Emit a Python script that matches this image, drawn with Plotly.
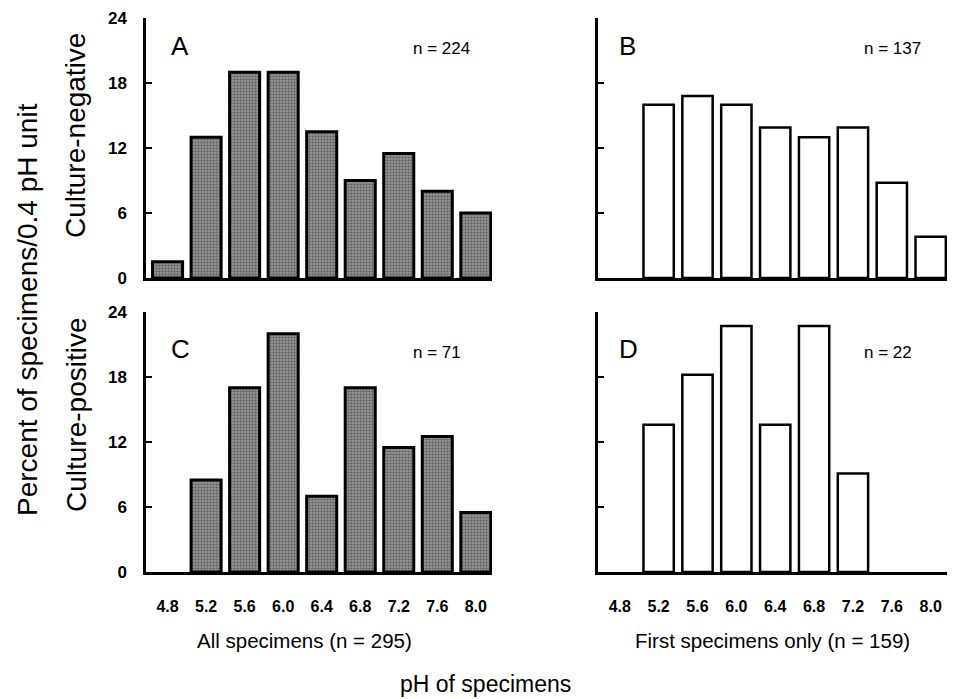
import plotly.graph_objects as go

ph_labels = ["4.8", "5.2", "5.6", "6.0", "6.4", "6.8", "7.2", "7.6", "8.0"]
y_ticks = [0, 6, 12, 18, 24]

# Panel A: culture-negative, all specimens (n = 224)
neg_all = [1.5, 13.0, 19.0, 19.0, 13.5, 9.0, 11.5, 8.0, 6.0]
# Panel B: culture-negative, first specimens only (n = 137)
neg_first = [0, 16.0, 16.8, 16.0, 13.9, 13.0, 13.9, 8.8, 3.8]
# Panel C: culture-positive, all specimens (n = 71)
pos_all = [0, 8.5, 17.0, 22.0, 7.0, 17.0, 11.5, 12.5, 5.5]
# Panel D: culture-positive, first specimens only (n = 22)
pos_first = [0, 13.6, 18.2, 22.7, 13.6, 22.7, 9.1, 0, 0]

panel_letters = ["A", "B", "C", "D"]
panel_n = ["n = 224", "n = 137", "n = 71", "n = 22"]

W, H = 963, 699
FONT = "Liberation Sans, Arial, sans-serif"


def px_x(x):
    return x / W


def px_y(y):
    return 1 - y / H


fig = go.Figure()

gray_marker = dict(
    color="#8c8c8c",
    line=dict(color="black", width=3),
    pattern=dict(shape=".", fgcolor="#262626", bgcolor="#939393", size=3, solidity=0.4),
)
white_marker = dict(color="white", line=dict(color="black", width=2.5))

series = [
    (neg_all, "x", "y", gray_marker),
    (neg_first, "x2", "y2", white_marker),
    (pos_all, "x3", "y3", gray_marker),
    (pos_first, "x4", "y4", white_marker),
]
for vals, xa, ya, mk in series:
    xs = [ph_labels[i] for i, v in enumerate(vals) if v > 0]
    ys = [v for v in vals if v > 0]
    fig.add_trace(go.Bar(x=xs, y=ys, xaxis=xa, yaxis=ya, marker=mk,
                         showlegend=False, hoverinfo="x+y"))

left_dom = [px_x(146), px_x(492)]
right_dom = [px_x(598), px_x(947)]
top_dom = [px_y(278), px_y(18)]
bot_dom = [px_y(572), px_y(312)]

xcommon = dict(
    type="category", categoryorder="array", categoryarray=ph_labels,
    range=[-0.56, 8.42], showline=True, linecolor="black", linewidth=2.5,
    ticks="", showgrid=False, zeroline=False, fixedrange=True,
    tickfont=dict(family=FONT, size=16, color="black", weight="bold"),
    ticklabelstandoff=18,
)
ycommon = dict(
    range=[0, 24], tickvals=y_ticks, showline=True, linecolor="black",
    linewidth=2.5, ticks="inside", ticklen=6, tickwidth=2, tickcolor="black",
    showgrid=False, zeroline=False, fixedrange=True,
    tickfont=dict(family=FONT, size=17, color="black", weight="bold"),
    ticklabelstandoff=13,
)

fig.update_layout(
    width=W, height=H,
    margin=dict(l=0, r=0, t=0, b=0, autoexpand=False),
    paper_bgcolor="white", plot_bgcolor="white",
    bargap=0.22,
    xaxis=dict(xcommon, domain=left_dom, anchor="y", showticklabels=False),
    yaxis=dict(ycommon, domain=top_dom, anchor="x"),
    xaxis2=dict(xcommon, domain=right_dom, anchor="y2", showticklabels=False),
    yaxis2=dict(ycommon, domain=top_dom, anchor="x2", showticklabels=False),
    xaxis3=dict(xcommon, domain=left_dom, anchor="y3"),
    yaxis3=dict(ycommon, domain=bot_dom, anchor="x3"),
    xaxis4=dict(xcommon, domain=right_dom, anchor="y4"),
    yaxis4=dict(ycommon, domain=bot_dom, anchor="x4", showticklabels=False),
)


def note(text, x, y, size, xanchor="center", angle=0):
    return dict(x=px_x(x), y=px_y(y), xref="paper", yref="paper",
                text=text, showarrow=False, xanchor=xanchor, yanchor="middle",
                textangle=angle,
                font=dict(family=FONT, size=size, color="black"))


ann = []
letter_pos = [(169, 46), (617, 46), (169, 349), (617, 349)]
n_pos = [(411, 48), (862, 48), (411, 352), (862, 353)]
for letter, (lx, ly) in zip(panel_letters, letter_pos):
    ann.append(note(letter, lx, ly, 26, xanchor="left"))
for nt, (nx, ny) in zip(panel_n, n_pos):
    ann.append(note(nt, nx, ny, 17, xanchor="left"))

ann.append(note("All specimens (n = 295)", 304, 640, 20.5))
ann.append(note("First specimens only (n = 159)", 772, 640, 20.5))
ann.append(note("pH of specimens", 485, 684, 23))
ann.append(note("Percent of specimens/0.4 pH unit", 27, 310, 28, angle=-90))
ann.append(note("Culture-negative", 76, 136, 28, angle=-90))
ann.append(note("Culture-positive", 76, 415, 28, angle=-90))

fig.update_layout(annotations=ann)

fig.write_html("out.html", config={"displayModeBar": False},
               post_script="document.body.style.margin='0';")
